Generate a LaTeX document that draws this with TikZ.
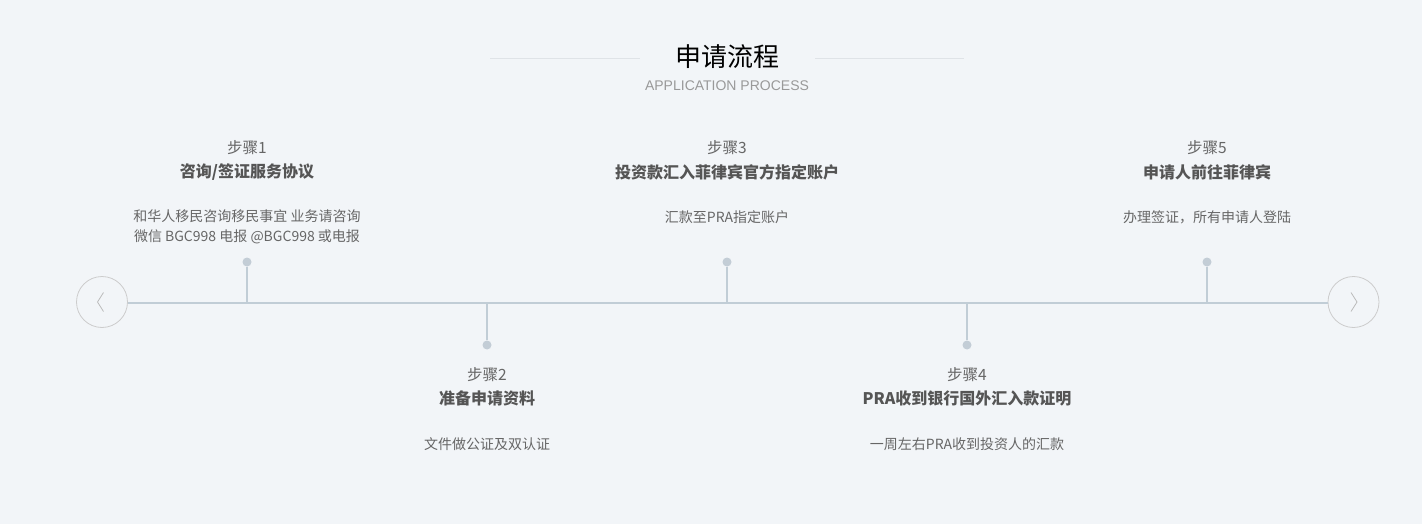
\documentclass[tikz,border=0pt]{standalone}
\usepackage{fontspec}
\setmainfont{Noto Sans CJK SC}
\newfontfamily\latinsans{Liberation Sans}
\definecolor{bgc}{HTML}{F2F5F8}
\definecolor{linec}{HTML}{C1CDD6}
\definecolor{dotc}{HTML}{C3CDD6}
\definecolor{sidec}{HTML}{DFE3E7}
\definecolor{circc}{HTML}{CCCCCC}
\definecolor{chevc}{HTML}{BBBBBB}
\definecolor{stepc}{HTML}{666666}
\definecolor{headc}{HTML}{555555}
\definecolor{descc}{HTML}{666666}
\definecolor{subc}{HTML}{999999}
\begin{document}
\begin{tikzpicture}[x=1pt,y=-1pt,
  steplabel/.style={text=stepc,font=\fontsize{15.5}{17}\selectfont,inner sep=0pt,anchor=center},
  stephead/.style={text=headc,font=\fontsize{16}{18}\selectfont\bfseries,inner sep=0pt,anchor=center},
  stepdesc/.style={text=descc,font=\fontsize{14}{20}\selectfont,inner sep=0pt,anchor=center,align=center},
  tdot/.style={circle,fill=dotc,inner sep=0pt,minimum size=9pt},
  stem/.style={draw=linec,line width=2pt},
  navcirc/.style={circle,draw=circc,line width=0.8pt,minimum size=51pt,inner sep=0pt},
  chev/.style={draw=chevc,line width=0.8pt,line join=miter}]
\fill[bgc] (0,0) rectangle (1422,524);
\useasboundingbox (0,0) rectangle (1422,524);
% title
\node[inner sep=0pt,font=\fontsize{26}{28}\selectfont,text=black] (title) at (727,57) {申请流程};
\node[inner sep=0pt,font=\latinsans\fontsize{14}{16}\selectfont,text=subc] (sub) at (727,86) {APPLICATION PROCESS};
\coordinate (sl1) at (490,59); \coordinate (sl2) at (640,59);
\coordinate (sr1) at (815,59); \coordinate (sr2) at (964,59);
\draw[sidec,line width=1pt] (sl1) -- (sl2);
\draw[sidec,line width=1pt] (sr1) -- (sr2);
% nav circles
\node[navcirc] (prev) at (102,302) {};
\node[navcirc] (next) at (1353.5,302) {};
\draw[chev] (103.5,292.5) -- (97.5,302) -- (103.5,311.5);
\draw[chev] (1351,292.5) -- (1357,302) -- (1351,311.5);
% timeline
\coordinate (tlL) at (127.5,303);
\coordinate (tlR) at (1328,303);
\draw[stem] (tlL) -- (tlR);
% step 1
\node[tdot] (d1) at (247,262) {};
\draw[stem] (d1) -- (d1 |- tlL);
\node[steplabel] (s1) at (247,148) {步骤1};
\node[stephead] (h1) at (247,172) {咨询/签证服务协议};
\node[stepdesc] (t1) at (247,227) {和华人移民咨询移民事宜 业务请咨询\\微信 BGC998 电报 @BGC998 或电报};
% step 2
\node[tdot] (d2) at (487,345) {};
\draw[stem] (d2) -- (d2 |- tlL);
\node[steplabel] (s2) at (487,375) {步骤2};
\node[stephead] (h2) at (487,398) {准备申请资料};
\node[stepdesc] (t2) at (487,444) {文件做公证及双认证};
% step 3
\node[tdot] (d3) at (727,262) {};
\draw[stem] (d3) -- (d3 |- tlL);
\node[steplabel] (s3) at (727,148) {步骤3};
\node[stephead] (h3) at (727,172) {投资款汇入菲律宾官方指定账户};
\node[stepdesc] (t3) at (727,217) {汇款至PRA指定账户};
% step 4
\node[tdot] (d4) at (967,345) {};
\draw[stem] (d4) -- (d4 |- tlL);
\node[steplabel] (s4) at (967,375) {步骤4};
\node[stephead] (h4) at (967,398) {PRA收到银行国外汇入款证明};
\node[stepdesc] (t4) at (967,444) {一周左右PRA收到投资人的汇款};
% step 5
\node[tdot] (d5) at (1207,262) {};
\draw[stem] (d5) -- (d5 |- tlL);
\node[steplabel] (s5) at (1207,148) {步骤5};
\node[stephead] (h5) at (1207,172) {申请人前往菲律宾};
\node[stepdesc] (t5) at (1207,217) {办理签证，所有申请人登陆};
\end{tikzpicture}
\end{document}
